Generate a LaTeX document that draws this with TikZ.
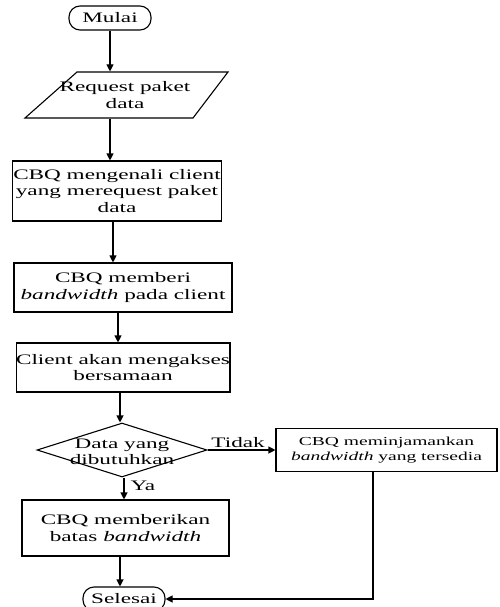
\documentclass[tikz,border=0pt]{standalone}
\usepackage{fontspec}
\setmainfont[FakeStretch=1.6]{Liberation Serif}
\usetikzlibrary{shapes.geometric,arrows.meta}

\tikzset{
  >={Triangle[length=7pt,width=7pt]},
  terminal/.style={draw, rounded corners=11pt, minimum width=82, minimum height=24, inner sep=0pt},
  proses/.style={draw, rectangle, align=center, inner sep=0pt},
  keputusan/.style={draw, diamond, inner sep=0pt, minimum width=170, minimum height=54},
  every picture/.style={line width=1.1pt},
}

\begin{document}
\begin{tikzpicture}[x=1pt, y=-1pt, font=\fontsize{14.5}{16.5}\selectfont]
			\useasboundingbox (0,0) rectangle (499,607);
			
			\node[terminal] (mulai) at (110,18)        {Mulai};
			
			\node[align=center, minimum height=46, inner sep=0pt] (req) at (125,95) {Request paket\\data};
			\draw (77,72) -- (228,72) -- (193,118) -- (25,118) -- cycle;
			
			\node[proses, minimum width=209, minimum height=60] (kenal)  at (117,191)   {CBQ mengenali client\\yang merequest paket\\data};
			\node[proses, minimum width=218, minimum height=49] (beri)   at (123,287.5) {CBQ memberi\\\textit{bandwidth} pada client};
			\node[proses, minimum width=210, minimum height=49] (akses)  at (123,367.5) {Client akan mengakses\\bersamaan};
			
			\node[keputusan] (cek) at (122,450) {};
			\node[align=center, inner sep=0pt] (cektxt) at (122,452) {Data yang\\dibutuhkan};
			
			\node[proses, minimum width=221, minimum height=43, font=\fontsize{12.2}{15}\selectfont] (pinjam) at (386.5,450) {CBQ meminjamankan\\\textit{bandwidth} yang tersedia};
			\node[proses, minimum width=207, minimum height=56] (batas)  at (125.5,528) {CBQ memberikan\\batas \textit{bandwidth}};
			
			\node[terminal] (selesai) at (124,599)     {Selesai};
			
			\draw[->] (mulai) -- (mulai |- req.north);
			\draw[->] ([xshift=-15]req.south) -- ([xshift=-15]req.south |- kenal.north);
			\draw[->] ([xshift=-4]kenal.south) -- ([xshift=-4]kenal.south |- beri.north);
			\draw[->] ([xshift=-5]beri.south) -- ([xshift=-5]beri.south |- akses.north);
			\draw[->] ([xshift=-3]akses.south) -- ([xshift=-3]akses.south |- cek.north);
			\draw[->] (cek.east) -- node[above, pos=0.45, inner sep=2pt] {Tidak} (pinjam.west);
			\draw[->] ([xshift=2]cek.south) -- node[right, pos=0.4, inner sep=6pt] {Ya} ([xshift=2]cek.south |- batas.north);
			\draw[->] ([xshift=-5.5]batas.south) -- ([xshift=-5.5]batas.south |- selesai.north);
			\draw[->] ([xshift=-13.5]pinjam.south) |- (selesai.east);
			%\draw[->] (pinjam.south) |- (selesai.east);
		\end{tikzpicture}
\end{document}
